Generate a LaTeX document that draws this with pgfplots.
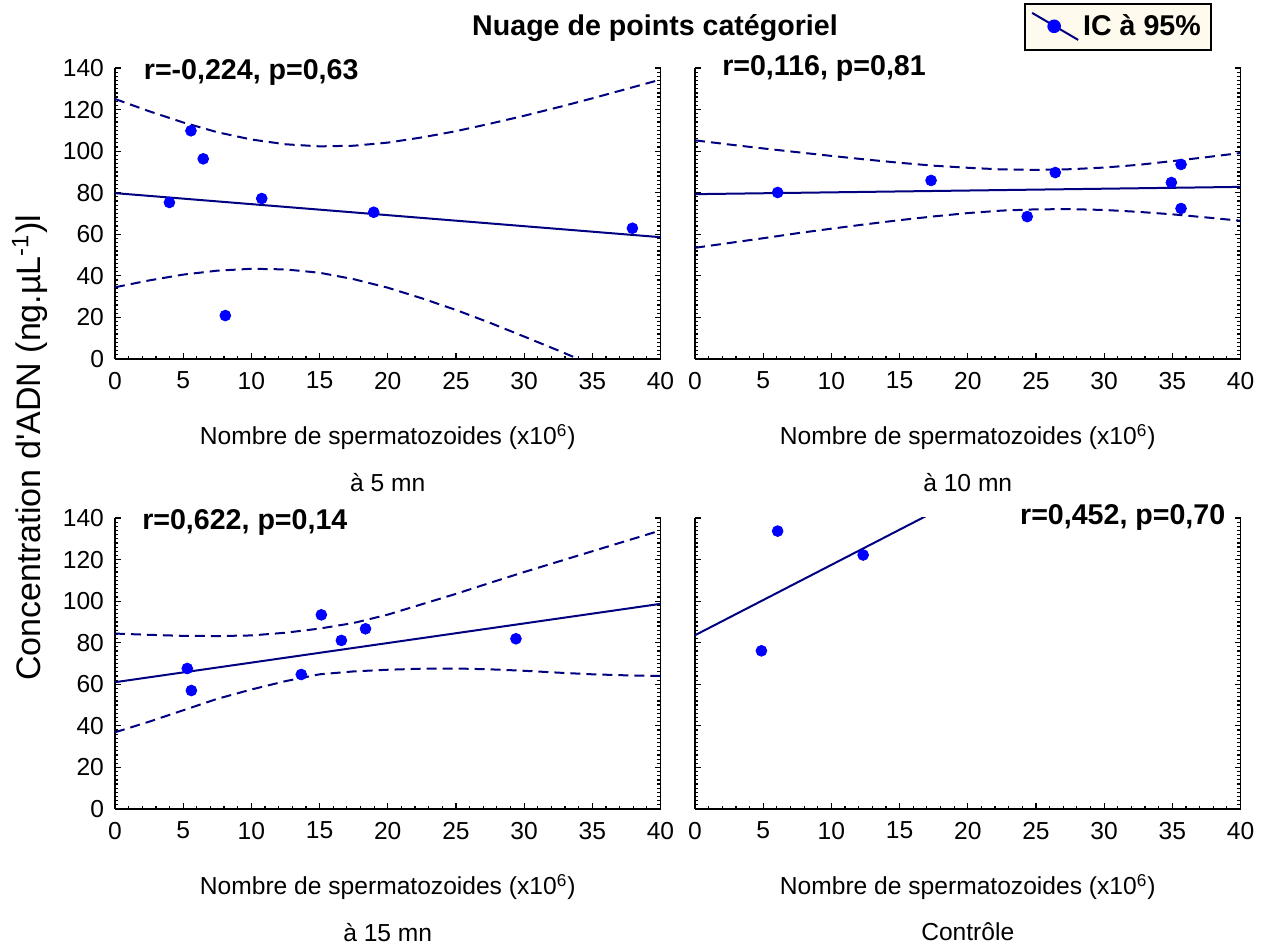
\documentclass[border=0pt]{standalone}
\usepackage{fontspec}
\setmainfont{Liberation Sans}
\usepackage{pgfplots}
\pgfplotsset{compat=1.18}

\definecolor{navyline}{HTML}{000080}
\definecolor{dotblue}{HTML}{0000FF}
\definecolor{legcream}{HTML}{FFFAEE}

\newcommand\regf{\fontsize{12.3}{14}\selectfont}
\newcommand\boldf{\bfseries\fontsize{14.3}{16}\selectfont}

\pgfplotsset{
  panel/.style={
    scale only axis, width=272.75pt, height=145.5pt,
    xmin=0, xmax=40, ymin=0, ymax=140,
    xtick={0,5,...,40}, ytick={0,20,...,140},
    minor x tick num=4, minor y tick num=9,
    axis x line*=bottom, axis y line*=box,
    xtick pos=bottom, ytick pos=both,
    tick align=inside,
    axis line style={line width=0.8pt, black},
    every tick/.style={black, line width=0.6pt},
    major tick length=3pt, minor tick length=1.6pt,
    tick label style={font=\regf},
    /pgf/number format/assume math mode=true,
    xticklabel style={yshift=-3pt},
    yticklabel style={xshift=-2pt},
    clip mode=individual,
  },
  fit/.style={navyline, line width=1pt},
  band/.style={navyline, line width=1pt, dash pattern=on 5pt off 3pt},
  pts/.style={only marks, mark=*, mark size=2.7pt, mark options={draw=dotblue, fill=dotblue}},
}

\begin{document}
\begin{tikzpicture}
\path[use as bounding box] (0,0) rectangle (634.5pt,-472.5pt);

\node[font=\boldf] at (327.5pt,-14pt) {Nuage de points catégoriel};
\node[font=\fontsize{17}{19}\selectfont, rotate=90] at (15pt,-224pt)
  {Concentration d\textquotesingle ADN (ng.µL\textsuperscript{-1})l};

% a 5 mn
\begin{axis}[panel, at={(57.5pt,-179.5pt)}, anchor=south west]
\addplot[band] coordinates {(0,125.1) (2.5,119.2) (5,113.8) (7.5,109.1) (10,105.6) (12.5,103.3) (15,102.3) (17.5,102.6) (20,104.1) (22.5,106.6) (25,109.6) (27.5,113.2) (30,117.0) (32.5,121.1) (35,125.4) (37.5,129.9) (40,134.4)};
\addplot[band] coordinates {(0,34.5) (2.5,37.8) (5,40.6) (7.5,42.5) (10,43.4) (12.5,43.1) (15,41.5) (17.5,38.4) (20,34.3) (22.5,29.2) (25,23.6) (27.5,17.4) (30,10.8) (32.5,4.1) (35,-2.8) (37.5,-9.9) (40,-17.2)};
\addplot[fit] coordinates {(0,79.8) (40,58.6)};
\addplot[pts] coordinates {(3.99,75.3) (5.57,109.8) (6.47,96.3) (8.09,20.9) (10.76,77.2) (18.97,70.6) (37.94,62.9)};
\node[anchor=west, font=\boldf] at (axis description cs:0.04,0.983) {r=-0,224, p=0,63};
\node[font=\regf] at (axis description cs:0.5,-0.268) {Nombre de spermatozoides (x10\textsuperscript{6})};
\node[font=\regf] at (axis description cs:0.5,-0.423) {à 5 mn};
\end{axis}

% a 10 mn
\begin{axis}[panel, at={(347.5pt,-179.5pt)}, anchor=south west, yticklabels={},
  legend style={at={(axis description cs:0.947,1.223)}, anchor=north east,
    draw=black, line width=0.8pt, fill=legcream, font=\boldf,
    inner xsep=3pt, inner ysep=3.5pt}]
\addlegendimage{legend image code/.code={
  \draw[navyline, line width=1pt] (-1pt,7pt) -- (22pt,-6.5pt);
  \fill[dotblue] (10pt,0.3pt) circle (3pt);}}
\addlegendentry{IC à 95\%}
\addplot[band, forget plot] coordinates {(0,105.2) (2.5,103.2) (5,101.3) (7.5,99.5) (10,97.7) (12.5,96.0) (15,94.4) (17.5,93.0) (20,92.0) (22.5,91.2) (25,91.0) (27.5,91.3) (30,92.1) (32.5,93.4) (35,95.2) (37.5,97.1) (40,99.1)};
\addplot[band, forget plot] coordinates {(0,53.5) (2.5,55.8) (5,58.1) (7.5,60.5) (10,62.7) (12.5,64.8) (15,66.8) (17.5,68.6) (20,70.2) (22.5,71.4) (25,72.0) (27.5,72.1) (30,71.7) (32.5,70.8) (35,69.6) (37.5,68.1) (40,66.5)};
\addplot[fit, forget plot] coordinates {(0,79.3) (40,82.8)};
\addplot[pts, forget plot] coordinates {(6.06,80.1) (17.31,85.9) (24.36,68.5) (26.42,89.7) (34.93,84.9) (35.64,93.6) (35.64,72.4)};
\node[anchor=west, font=\boldf] at (axis description cs:0.037,1.0) {r=0,116, p=0,81};
\node[font=\regf] at (axis description cs:0.5,-0.268) {Nombre de spermatozoides (x10\textsuperscript{6})};
\node[font=\regf] at (axis description cs:0.5,-0.423) {à 10 mn};
\end{axis}

% a 15 mn
\begin{axis}[panel, at={(57.5pt,-404.5pt)}, anchor=south west]
\addplot[band] coordinates {(0,84.4) (2.5,83.8) (5,83.3) (7.5,83.2) (10,83.5) (12.5,84.8) (15,86.8) (17.5,89.5) (20,93.5) (22.5,98.5) (25,103.5) (27.5,108.8) (30,114.0) (32.5,119.0) (35,124.0) (37.5,129.0) (40,134.0)};
\addplot[band] coordinates {(0,36.9) (2.5,42.0) (5,47.5) (7.5,53.0) (10,57.5) (12.5,61.5) (15,64.8) (17.5,66.2) (20,67.0) (22.5,67.5) (25,67.6) (27.5,67.2) (30,66.5) (32.5,65.6) (35,64.8) (37.5,64.3) (40,64.0)};
\addplot[fit] coordinates {(0,61.0) (40,98.7)};
\addplot[pts] coordinates {(5.30,67.6) (5.60,57.0) (13.66,64.7) (15.13,93.4) (16.60,81.1) (18.37,86.7) (29.40,81.9)};
\node[anchor=west, font=\boldf] at (axis description cs:0.037,0.983) {r=0,622, p=0,14};
\node[font=\regf] at (axis description cs:0.5,-0.268) {Nombre de spermatozoides (x10\textsuperscript{6})};
\node[font=\regf] at (axis description cs:0.5,-0.423) {à 15 mn};
\end{axis}

% Controle
\begin{axis}[panel, at={(347.5pt,-404.5pt)}, anchor=south west, yticklabels={}]
\addplot[fit] coordinates {(0,83.6) (40,219.0)};
\addplot[pts] coordinates {(4.87,76.1) (6.06,133.7) (12.33,122.2)};
\node[anchor=east, font=\boldf] at (axis description cs:0.985,1.003) {r=0,452, p=0,70};
\node[font=\regf] at (axis description cs:0.5,-0.268) {Nombre de spermatozoides (x10\textsuperscript{6})};
\node[font=\regf] at (axis description cs:0.5,-0.423) {Contrôle};
\end{axis}
\end{tikzpicture}
\end{document}
